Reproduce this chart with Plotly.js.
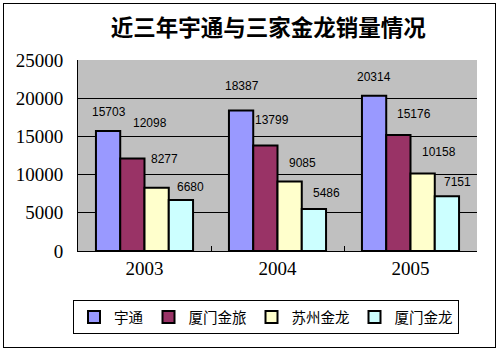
<!DOCTYPE html>
<html>
<head>
<meta charset="utf-8">
<script src="https://cdn.plot.ly/plotly-3.0.1.min.js"></script>
<style>
html,body{margin:0;padding:0;background:#fff;}
#wrap{position:relative;width:500px;height:351px;}
#chart{width:500px;height:351px;}
#frame{position:absolute;left:3px;top:3px;width:491px;height:343px;border:1px solid #000;pointer-events:none;}
</style>
</head>
<body>
<div id="wrap"><div id="chart"></div><div id="frame"></div></div>
<script>
// data
var years = ['2003', '2004', '2005'];
var seriesNames = ['宇通', '厦门金旅', '苏州金龙', '厦门金龙'];
var yutong   = [15703, 18387, 20314];
var xmJinlv  = [12098, 13799, 15176];
var szJinlong= [8277, 9085, 10158];
var xmJinlong= [6680, 5486, 7151];
var seriesValues = [yutong, xmJinlv, szJinlong, xmJinlong];
var yTicks = [0, 5000, 10000, 15000, 20000, 25000];

// styles
var colors = ['#9999FF', '#993366', '#FFFFCC', '#CCFFFF'];
// label offsets in px (dx from bar centre, dy above bar top), per series per year
var labelDx = [[1, 1, 0], [18, 7, 16], [8, 13, 16], [10, 13, 11]];
var labelDy = [[19, 25, 19], [36, 26, 21], [29, 19, 21], [13, 16, 14]];

var bargap = 0.27;
var nS = seriesNames.length;
var bw = (1 - bargap) / nS;

var traces = seriesNames.map(function (name, i) {
  return {
    type: 'bar',
    name: name,
    x: years,
    y: seriesValues[i],
    marker: {color: colors[i], line: {color: '#000', width: 2}},
    hoverinfo: 'none'
  };
});

var annotations = [];
seriesValues.forEach(function (vals, i) {
  vals.forEach(function (v, j) {
    annotations.push({
      xref: 'x', yref: 'y',
      x: j + (i - (nS - 1) / 2) * bw,
      y: v,
      text: String(v),
      showarrow: false,
      xanchor: 'center', yanchor: 'middle',
      xshift: labelDx[i][j], yshift: labelDy[i][j],
      font: {family: 'Liberation Sans, Arial', size: 12, color: '#000'}
    });
  });
});

var layout = {
  width: 500, height: 351,
  margin: {l: 78, r: 23, t: 60, b: 100},
  paper_bgcolor: 'rgba(0,0,0,0)',
  plot_bgcolor: '#C0C0C0',
  barmode: 'group',
  bargap: bargap,
  bargroupgap: 0,
  title: {
    text: '近三年宇通与三家金龙销量情况',
    font: {family: 'Noto Sans CJK SC', size: 22.5, color: '#000', weight: 'bold'},
    x: 0.477, xref: 'paper', xanchor: 'center',
    y: 1 - 28 / 351, yref: 'container', yanchor: 'middle'
  },
  xaxis: {
    type: 'category',
    showline: true, linecolor: '#000', linewidth: 1,
    ticks: 'inside', ticklen: 5, tickcolor: '#000', tickson: 'boundaries',
    showgrid: false,
    tickfont: {family: 'Liberation Serif, Times New Roman', size: 19, color: '#000'},
    fixedrange: true
  },
  yaxis: {
    range: [0, 25000],
    tickvals: yTicks,
    ticktext: yTicks.map(String),
    showline: true, linecolor: '#000', linewidth: 1,
    showgrid: true, gridcolor: '#000', gridwidth: 1,
    zeroline: false,
    ticks: '',
    ticklabelstandoff: 10,
    tickfont: {family: 'Liberation Serif, Times New Roman', size: 19, color: '#000'},
    fixedrange: true
  },
  legend: {
    orientation: 'h',
    x: (73 - 78) / 399, xanchor: 'left',
    y: (251 - 300) / 191, yanchor: 'top',
    bgcolor: '#fff', bordercolor: '#000', borderwidth: 1,
    font: {family: 'Noto Sans CJK SC', size: 14.5, color: '#000'},
    traceorder: 'normal',
    itemwidth: 30
  },
  annotations: annotations,
  showlegend: true
};

Plotly.newPlot('chart', traces, layout, {displayModeBar: false, staticPlot: true});
</script>
</body>
</html>
